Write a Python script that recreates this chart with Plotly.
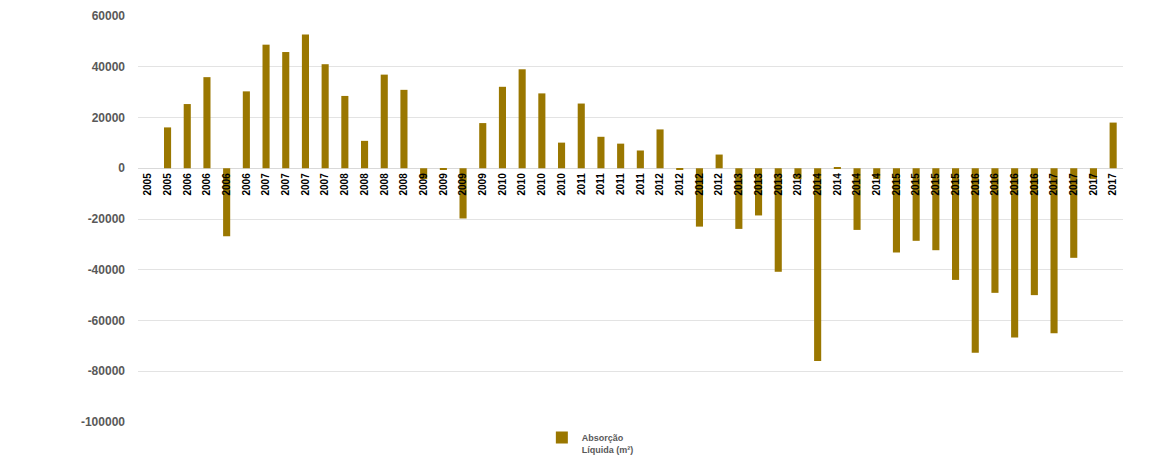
import plotly.graph_objects as go

labels = ["2005", "2005",
          "2006", "2006", "2006", "2006",
          "2007", "2007", "2007", "2007",
          "2008", "2008", "2008", "2008",
          "2009", "2009", "2009", "2009",
          "2010", "2010", "2010", "2010",
          "2011", "2011", "2011", "2011",
          "2012", "2012", "2012", "2012",
          "2013", "2013", "2013", "2013",
          "2014", "2014", "2014", "2014",
          "2015", "2015", "2015", "2015",
          "2016", "2016", "2016", "2016",
          "2017", "2017", "2017", "2017"]

absorcao = [0, 16100,
            25300, 35900, -26800, 30300,
            48700, 45800, 52700, 41000,
            28500, 10800, 36900, 30900,
            -4300, -300, -19800, 17800,
            32100, 39000, 29500, 10100,
            25500, 12400, 9700, 7000,
            15300, -600, -23000, 5400,
            -23900, -18600, -40800, -4300,
            -76000, 400, -24300, -4200,
            -33200, -28600, -32300, -44000,
            -72700, -49100, -66700, -50000,
            -65000, -35300, -4200, 18000]

positions = list(range(len(labels)))

y_ticks = [60000, 40000, 20000, 0, -20000, -40000, -60000, -80000, -100000]

bar_color = "#9A7700"

fig = go.Figure()
fig.add_trace(go.Bar(
    x=positions,
    y=absorcao,
    name="Absorção<br>Líquida (m²)",
    marker=dict(color=bar_color, line=dict(width=0)),
))

top, bottom = 16, 40
y_min, y_max = -100000, 60000
zero_frac = (0 - y_min) / (y_max - y_min)

fig.update_layout(
    width=1150, height=462,
    margin=dict(l=138, r=27, t=top, b=bottom, autoexpand=False),
    paper_bgcolor="white",
    plot_bgcolor="white",
    bargap=0.64,
    showlegend=True,
    legend=dict(
        x=0.41, y=-0.008, xanchor="left", yanchor="top",
        yref="paper",
        orientation="h",
        font=dict(family="Liberation Sans", size=9, color="#595959", weight="bold"),
        valign="top",
        itemwidth=30,
        bgcolor="rgba(0,0,0,0)",
    ),
    font=dict(family="Liberation Sans"),
)

fig.update_xaxes(
    range=[-0.5, len(labels) - 0.5],
    tickmode="array",
    tickvals=positions,
    ticktext=labels,
    tickangle=-90,
    tickfont=dict(family="Liberation Sans", size=10, color="#000000", weight="bold"),
    showgrid=False,
    showline=False,
    zeroline=False,
    anchor="free",
    position=zero_frac,
    ticks="",
    ticklabelstandoff=2,
)

fig.update_yaxes(
    range=[y_min, y_max],
    tickmode="array",
    tickvals=y_ticks,
    ticktext=[str(v) for v in y_ticks],
    tickfont=dict(family="Liberation Sans", size=12, color="#595959", weight="bold"),
    showgrid=True,
    gridcolor="#E3E3E3",
    gridwidth=1,
    zeroline=True,
    zerolinecolor="#D9D9D9",
    zerolinewidth=1,
    showline=False,
    ticks="",
    ticklabelstandoff=12,
)

fig.write_html("out.html")
